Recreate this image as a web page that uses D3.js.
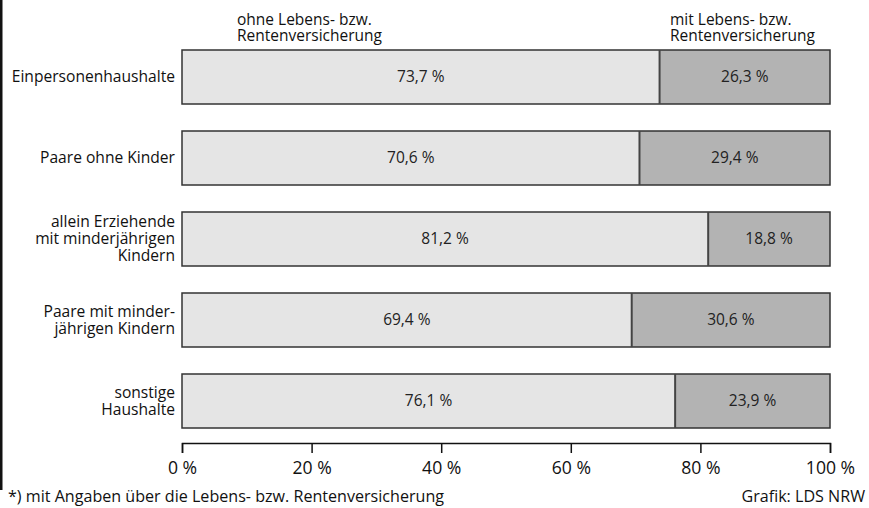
<!DOCTYPE html>
<html><head><meta charset="utf-8">
<script src="https://cdn.jsdelivr.net/npm/d3@7"></script>
<style>
body{margin:0;background:#fff;}
svg{display:block;font-family:"Open Sans",sans-serif;}
</style></head>
<body><svg id="c" width="869" height="508"></svg>
<script>
const categories = [
  ["Einpersonenhaushalte"],
  ["Paare ohne Kinder"],
  ["allein Erziehende","mit minderjährigen","Kindern"],
  ["Paare mit minder-","jährigen Kindern"],
  ["sonstige","Haushalte"]
];
const ohne = [73.7, 70.6, 81.2, 69.4, 76.1];
const mit = [26.3, 29.4, 18.8, 30.6, 23.9];
const ticks = [0, 20, 40, 60, 80, 100];
const seriesNames = [["ohne Lebens- bzw.","Rentenversicherung"],["mit Lebens- bzw.","Rentenversicherung"]];
const footnote = "*) mit Angaben über die Lebens- bzw. Rentenversicherung";
const credit = "Grafik: LDS NRW";

const svg = d3.select("#c");
const fmt = v => d3.format(".1f")(v).replace(".", ",") + " %";
const keys = categories.map((c,i)=>i);
const x = d3.scaleLinear().domain([0,100]).range([182,830]);
const y = d3.scaleBand().domain(keys).range([50,428]).paddingInner(1/3).paddingOuter(0);

// left border
svg.append("rect").attr("x",0).attr("y",0).attr("width",2.5).attr("height",490).attr("fill","#111");

// bars
const g = svg.append("g");
keys.forEach(i=>{
  const yy = y(i), h = y.bandwidth();
  g.append("rect").attr("x",x(0)).attr("y",yy).attr("width",x(ohne[i])-x(0)).attr("height",h)
    .attr("fill","#e5e5e5");
  g.append("rect").attr("x",x(ohne[i])).attr("y",yy).attr("width",x(100)-x(ohne[i])).attr("height",h)
    .attr("fill","#b3b3b3");
  g.append("rect").attr("x",x(0)).attr("y",yy).attr("width",x(100)-x(0)).attr("height",h)
    .attr("fill","none").attr("stroke","#333").attr("stroke-width",1.5);
  g.append("line").attr("x1",x(ohne[i])).attr("x2",x(ohne[i])).attr("y1",yy).attr("y2",yy+h)
    .attr("stroke","#444").attr("stroke-width",2);
  g.append("text").attr("x",(x(0)+x(ohne[i]))/2).attr("y",yy+h/2).attr("dy","0.35em")
    .attr("text-anchor","middle").attr("font-size",15.5).attr("fill","#222").text(fmt(ohne[i]));
  g.append("text").attr("x",(x(ohne[i])+x(100))/2).attr("y",yy+h/2).attr("dy","0.35em")
    .attr("text-anchor","middle").attr("font-size",15.5).attr("fill","#222").text(fmt(mit[i]));
  // category label
  const lines = categories[i];
  const lh = 17;
  const t = svg.append("text").attr("text-anchor","end").attr("font-size",15.6).attr("fill","#111");
  lines.forEach((l,j)=>{
    t.append("tspan").attr("x",175).attr("y", yy + h/2 + (j-(lines.length-1)/2)*lh).attr("dy","0.35em").text(l);
  });
});

// headers
[[237],[670]].forEach((p,k)=>{
  const t = svg.append("text").attr("font-size",15.5).attr("fill","#111");
  seriesNames[k].forEach((l,j)=>t.append("tspan").attr("x",p[0]).attr("y",25+j*16).text(l));
});

// axis
const ax = svg.append("g").attr("transform","translate(0,443)")
  .call(d3.axisBottom(x).tickValues(ticks).tickSize(10).tickPadding(9).tickFormat(d=>d+" %"));
ax.select(".domain").attr("stroke","#111").attr("stroke-width",1.5);
ax.selectAll(".tick line").attr("stroke","#111").attr("stroke-width",1.5);
ax.selectAll(".tick text").attr("font-size",17.6).attr("fill","#111").attr("font-family","'Open Sans',sans-serif");

svg.append("text").attr("x",8).attr("y",502).attr("font-size",16.1).attr("fill","#111").text(footnote);
svg.append("text").attr("x",865).attr("y",502).attr("text-anchor","end").attr("font-size",16.1).attr("fill","#111").text(credit);
</script></body></html>
